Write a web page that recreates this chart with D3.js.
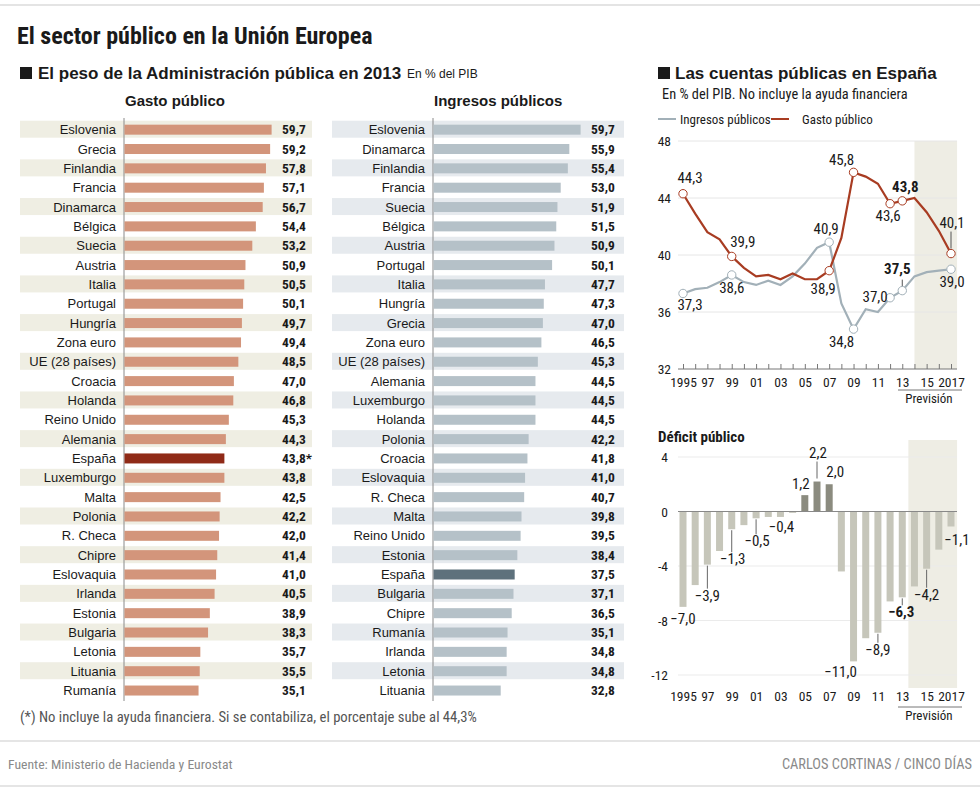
<!DOCTYPE html>
<html><head><meta charset="utf-8">
<script src="https://cdn.jsdelivr.net/npm/d3@7"></script>
<style>
body{margin:0;background:#fff;}
svg text{font-family:"Liberation Sans",Arial,sans-serif;}
.cond{font-family:"Liberation Sans Narrow","Arial Narrow","Roboto Condensed","DejaVu Sans Condensed",sans-serif !important;font-stretch:condensed;}
</style></head><body>
<svg id="c" width="980" height="795"></svg>
<script>
// ---------- DATA ----------
const gastoCountries = ["Eslovenia","Grecia","Finlandia","Francia","Dinamarca","Bélgica","Suecia","Austria","Italia","Portugal","Hungría","Zona euro","UE (28 países)","Croacia","Holanda","Reino Unido","Alemania","España","Luxemburgo","Malta","Polonia","R. Checa","Chipre","Eslovaquia","Irlanda","Estonia","Bulgaria","Letonia","Lituania","Rumanía"];
const gastoValues = [59.7,59.2,57.8,57.1,56.7,54.4,53.2,50.9,50.5,50.1,49.7,49.4,48.5,47.0,46.8,45.3,44.3,43.8,43.8,42.5,42.2,42.0,41.4,41.0,40.5,38.9,38.3,35.7,35.5,35.1];
const ingresosCountries = ["Eslovenia","Dinamarca","Finlandia","Francia","Suecia","Bélgica","Austria","Portugal","Italia","Hungría","Grecia","Zona euro","UE (28 países)","Alemania","Luxemburgo","Holanda","Polonia","Croacia","Eslovaquia","R. Checa","Malta","Reino Unido","Estonia","España","Bulgaria","Chipre","Rumanía","Irlanda","Letonia","Lituania"];
const ingresosValues = [59.7,55.9,55.4,53.0,51.9,51.5,50.9,50.1,47.7,47.3,47.0,46.5,45.3,44.5,44.5,44.5,42.2,41.8,41.0,40.7,39.8,39.5,38.4,37.5,37.1,36.5,35.1,34.8,34.8,32.8];
const years = d3.range(1995, 2018);
const ingresosEsp = [37.3,37.6,37.7,38.1,38.6,38.1,37.9,38.2,37.9,38.5,39.4,40.5,40.9,36.6,34.8,36.2,36.0,37.0,37.5,38.5,38.8,38.9,39.0];
const gastoEsp    = [44.3,42.9,41.6,41.1,39.9,39.1,38.5,38.6,38.3,38.7,38.3,38.3,38.9,41.2,45.8,45.5,45.0,43.6,43.8,44.0,43.0,41.7,40.1];
const deficit     = [-7.0,-5.4,-3.9,-2.9,-1.3,-1.0,-0.5,-0.4,-0.4,-0.1,1.2,2.2,2.0,-4.4,-11.0,-9.3,-8.9,-6.6,-6.3,-5.5,-4.2,-2.8,-1.1];
const lineTicks = [32,36,40,44,48];
const defTicks = [-12,-8,-4,0,4];
const yearLabels = [1995,1997,1999,2001,2003,2005,2007,2009,2011,2013,2015,2017];

// ---------- SETUP ----------
const svg = d3.select("#c");
const fmt = v => d3.format(".1f")(v).replace(".", ",");
const yrFmt = y => (y===1995||y===2017) ? String(y) : String(y).slice(2);

// frame lines
svg.append("line").attr("x1",0).attr("x2",980).attr("y1",5).attr("y2",5).attr("stroke","#e4e4e4").attr("stroke-width",2);
svg.append("line").attr("x1",0).attr("x2",980).attr("y1",741).attr("y2",741).attr("stroke","#dcdcdc").attr("stroke-width",1.5);
svg.append("line").attr("x1",0).attr("x2",980).attr("y1",786).attr("y2",786).attr("stroke","#dcdcdc").attr("stroke-width",1.5);

// titles
svg.append("text").attr("class","cond").attr("x",17).attr("y",44).attr("font-size",24).attr("font-weight","bold").attr("fill","#1a1a1a").text("El sector público en la Unión Europea");
svg.append("rect").attr("x",20).attr("y",67).attr("width",12).attr("height",12).attr("fill","#1a1a1a");
svg.append("text").attr("x",38).attr("y",79).attr("font-size",17).attr("font-weight","bold").attr("fill","#1a1a1a").text("El peso de la Administración pública en 2013");
svg.append("text").attr("x",407).attr("y",78).attr("font-size",12).attr("fill","#1a1a1a").text("En % del PIB");

svg.append("rect").attr("x",658).attr("y",67).attr("width",12).attr("height",12).attr("fill","#1a1a1a");
svg.append("text").attr("x",675).attr("y",79).attr("font-size",17).attr("font-weight","bold").attr("fill","#1a1a1a").text("Las cuentas públicas en España");
svg.append("text").attr("class","cond").attr("x",662).attr("y",99).attr("font-size",14.4).attr("fill","#1a1a1a").text("En % del PIB. No incluye la ayuda financiera");

// ---------- BAR PANELS ----------
const rowBand = d3.scaleBand().domain(d3.range(30)).range([119.5, 699.7]);
function barPanel(opt){
  const g = svg.append("g");
  const x = d3.scaleLinear().domain([10,60]).range([opt.axisX, opt.axisX + 148.5]);
  g.append("text").attr("x",opt.axisX+1).attr("y",106).attr("font-size",15).attr("font-weight","bold").attr("fill","#1a1a1a").text(opt.title);
  opt.countries.forEach((c,i)=>{
    const y0 = rowBand(i);
    if(i%2===0) g.append("rect").attr("x",opt.bgX).attr("y",y0+1.2).attr("width",292).attr("height",17).attr("fill",opt.bg);
  });
  g.append("line").attr("x1",opt.axisX).attr("x2",opt.axisX).attr("y1",118).attr("y2",701).attr("stroke","#8a8a8a").attr("stroke-width",1);
  opt.countries.forEach((c,i)=>{
    const cy = rowBand(i) + rowBand.bandwidth()/2 + 0.5;
    const v = opt.values[i];
    g.append("rect").attr("x",x(10)+0.5).attr("y",cy-5).attr("width",x(v)-x(10)-0.5).attr("height",10)
      .attr("fill", c==="España" ? opt.hi : opt.color);
    g.append("text").attr("x",opt.axisX-8).attr("y",cy+4.5).attr("text-anchor","end").attr("font-size",13).attr("fill","#1a1a1a").text(c);
    g.append("text").attr("class","cond").attr("x",opt.axisX+158).attr("y",cy+4.5).attr("font-size",13.5).attr("font-weight","bold").attr("fill","#1a1a1a")
      .text(fmt(v) + (opt.star && c==="España" ? "*" : ""));
  });
}
barPanel({title:"Gasto público", countries:gastoCountries, values:gastoValues, axisX:124, bgX:20, bg:"#efeee3", color:"#d3957b", hi:"#8f2a17", star:true});
barPanel({title:"Ingresos públicos", countries:ingresosCountries, values:ingresosValues, axisX:433, bgX:332, bg:"#e6eaee", color:"#b5c1c8", hi:"#5e717c", star:false});

svg.append("text").attr("class","cond").attr("x",20).attr("y",722).attr("font-size",14.7).attr("fill","#555").text("(*) No incluye la ayuda financiera. Si se contabiliza, el porcentaje sube al 44,3%");
svg.append("text").attr("class","cond").attr("x",8).attr("y",769).attr("font-size",13.7).attr("fill","#8a8a8a").text("Fuente: Ministerio de Hacienda y Eurostat");
svg.append("text").attr("class","cond").attr("x",972).attr("y",769).attr("text-anchor","end").attr("font-size",14.4).attr("fill","#8a8a8a").text("CARLOS CORTINAS / CINCO DÍAS");

// ---------- LINE CHART ----------
const xL = d3.scaleLinear().domain([1995,2017]).range([683,951]);
const yL = d3.scaleLinear().domain([32,48]).range([369,141]);
const lc = svg.append("g");
const ingColor = "#a2b0b8", gasColor = "#a83c22";
// legend
lc.append("line").attr("x1",658).attr("x2",676).attr("y1",119).attr("y2",119).attr("stroke",ingColor).attr("stroke-width",2);
lc.append("text").attr("class","cond").attr("x",680).attr("y",124).attr("font-size",13).attr("fill","#1a1a1a").text("Ingresos públicos");
lc.append("line").attr("x1",771).attr("x2",789).attr("y1",119).attr("y2",119).attr("stroke",gasColor).attr("stroke-width",2);
lc.append("text").attr("class","cond").attr("x",802).attr("y",124).attr("font-size",13).attr("fill","#1a1a1a").text("Gasto público");
// shading
lc.append("rect").attr("x",xL(2014)).attr("y",yL(48)).attr("width",xL(2017.5)-xL(2014)).attr("height",yL(32)-yL(48)).attr("fill","#eeede4");
// grid
lineTicks.forEach(t=>{
  if(t!==32) lc.append("line").attr("x1",678).attr("x2",957).attr("y1",yL(t)).attr("y2",yL(t)).attr("stroke","#e6e6e6").attr("stroke-width",1);
  lc.append("text").attr("class","cond").attr("x",671).attr("y",yL(t)+5).attr("text-anchor","end").attr("font-size",13.5).attr("fill","#1a1a1a").text(t);
});
// x axis
const axL = lc.append("g").attr("transform",`translate(0,${yL(32)})`)
  .call(d3.axisBottom(xL).tickValues(years).tickSize(-5).tickPadding(8).tickFormat(y=> yearLabels.includes(y)? yrFmt(y):""));
axL.select(".domain").attr("d","M678,0H957").attr("stroke","#777");
axL.selectAll(".tick line").attr("stroke","#777");
axL.selectAll("text").attr("class","cond").attr("font-size",13.5).attr("fill","#1a1a1a");
lc.append("line").attr("x1",898).attr("x2",962).attr("y1",390).attr("y2",390).attr("stroke","#777");
lc.append("text").attr("class","cond").attr("x",929).attr("y",403).attr("text-anchor","middle").attr("font-size",13).attr("fill","#1a1a1a").text("Previsión");
// lines
const lineGen = d3.line().x((d,i)=>xL(years[i])).y(d=>yL(d));
lc.append("path").datum(ingresosEsp).attr("d",lineGen).attr("fill","none").attr("stroke",ingColor).attr("stroke-width",2.2);
lc.append("path").datum(gastoEsp).attr("d",lineGen).attr("fill","none").attr("stroke",gasColor).attr("stroke-width",2.2);
// labeled points [series, year, dx, dy(baseline), bold, leader]
const lineLabels = [
  ["i",1995,7,17,false],["i",1999,0,18,false],["i",2007,-3,-8,false],["i",2009,-12,18,false],
  ["i",2012,-15,4,false],["i",2013,-5,-17,true,[-11,-4]],["i",2017,1,18,false],
  ["g",1995,7,-11,false],["g",1999,11,-9,false],["g",2007,-6,23,false],["g",2009,-12,-7,false],
  ["g",2012,-2,17,false],["g",2013,3,-9,true],["g",2017,1,-26,false,[-22,-5]]
];
lineLabels.forEach(([s,yr,dx,dy,bold,lead])=>{
  const arr = s==="i"? ingresosEsp : gastoEsp;
  const v = arr[years.indexOf(yr)];
  const px = xL(yr), py = yL(v);
  const col = s==="i"? ingColor : gasColor;
  if(lead) lc.append("line").attr("x1",px).attr("x2",px).attr("y1",py+lead[0]).attr("y2",py+lead[1]).attr("stroke","#555");
  lc.append("circle").attr("cx",px).attr("cy",py).attr("r",4.2).attr("fill","#fff").attr("stroke",col).attr("stroke-width",1);
  lc.append("text").attr("class","cond").attr("x",px+dx).attr("y",py+dy).attr("text-anchor","middle").attr("font-size",15)
    .attr("font-weight",bold?"bold":"normal").attr("fill","#1a1a1a").text(fmt(v));
});

// ---------- DEFICIT ----------
const yD = d3.scaleLinear().domain([-12,4]).range([675,457]);
const dc = svg.append("g");
dc.append("text").attr("x",658).attr("y",442).attr("font-size",15).attr("font-weight","bold").attr("fill","#1a1a1a").attr("class","cond").text("Déficit público");
dc.append("rect").attr("x",xL(2013.5)).attr("y",440).attr("width",xL(2017.5)-xL(2013.5)).attr("height",688-440).attr("fill","#eeede4");
defTicks.forEach(t=>{
  if(t!==0) dc.append("line").attr("x1",678).attr("x2",957).attr("y1",yD(t)).attr("y2",yD(t)).attr("stroke","#ebebeb");
  dc.append("text").attr("class","cond").attr("x",668).attr("y",yD(t)+5).attr("text-anchor","end").attr("font-size",13.5).attr("fill","#1a1a1a").text(t);
});
dc.selectAll("rect.bar").data(deficit).enter().append("rect").attr("class","bar")
  .attr("x",(d,i)=>xL(years[i])-3.5).attr("width",7)
  .attr("y",d=>yD(Math.max(0,d))).attr("height",d=>Math.abs(yD(d)-yD(0)))
  .attr("fill",d=> d>0 ? "#8b8b7f" : "#c6c6ba");
dc.append("line").attr("x1",678).attr("x2",957).attr("y1",yD(0)).attr("y2",yD(0)).attr("stroke","#888");
const axD = dc.append("g").attr("transform","translate(0,687)")
  .call(d3.axisBottom(xL).tickValues(yearLabels).tickSize(0).tickPadding(4).tickFormat(yrFmt));
axD.select(".domain").remove();
axD.selectAll("text").attr("class","cond").attr("font-size",13.5).attr("fill","#1a1a1a");
dc.append("line").attr("x1",898).attr("x2",962).attr("y1",707).attr("y2",707).attr("stroke","#777");
dc.append("text").attr("class","cond").attr("x",929).attr("y",720).attr("text-anchor","middle").attr("font-size",13).attr("fill","#1a1a1a").text("Previsión");
// labels [year, dx, baseline offset from bar end, bold, leader]
const defLabels = [
  [1995,0,17,false],[1997,0,36,false,[1,24]],[1999,1,35,false,[1,23]],[2001,1,28,false,[1,16]],[2003,1,15,false],
  [2005,-4,-6,false],[2006,1,-24,false,[-3,-20]],[2007,6,-7,false],
  [2009,-13,16,false],[2011,0,22,false,[1,10]],[2013,-1,20,true,[1,8]],[2015,0,31,false,[1,19]],[2017,6,19,false]
];
defLabels.forEach(([yr,dx,dy,bold,lead])=>{
  const v = deficit[years.indexOf(yr)];
  const px = xL(yr), py = yD(v);
  if(lead) dc.append("line").attr("x1",px).attr("x2",px).attr("y1",py+lead[0]).attr("y2",py+lead[1]).attr("stroke","#666");
  dc.append("text").attr("class","cond").attr("x",px+dx).attr("y",py+dy).attr("text-anchor","middle").attr("font-size",15)
    .attr("font-weight",bold?"bold":"normal").attr("fill","#1a1a1a").text(fmt(v));
});
</script></body></html>
